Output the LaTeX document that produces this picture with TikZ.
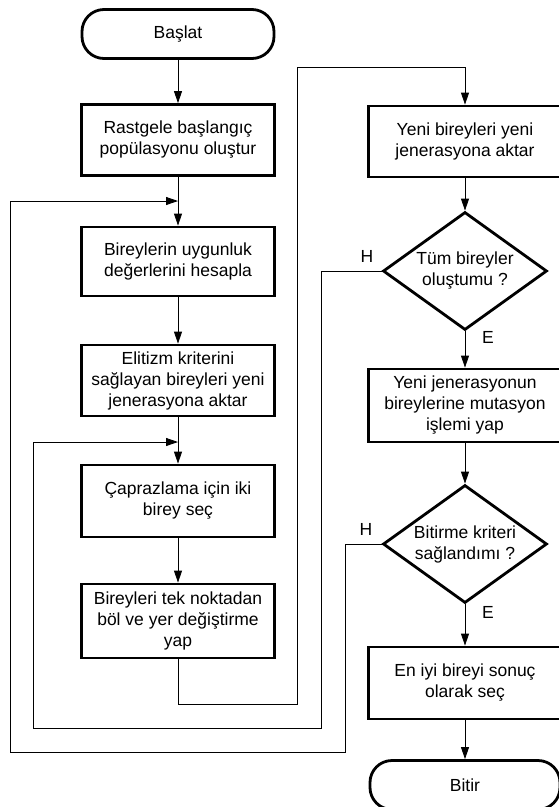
\documentclass[tikz,border=0pt]{standalone}
\usepackage{fontspec}
\setmainfont{Liberation Sans}
\usetikzlibrary{shapes.geometric,arrows.meta}

\begin{document}
\begin{tikzpicture}[x=1pt,y=1pt,yscale=-1,xscale=1,
  every node/.style={font=\fontsize{17.5}{21}\selectfont,align=center},
  stepbox/.style={draw,line width=2.8pt,minimum width=193,minimum height=71,inner sep=2pt},
  endbox/.style={draw,line width=2.8pt,rounded corners=22pt,minimum width=192,minimum height=49},
  askbox/.style={draw,diamond,line width=2.8pt,inner sep=0pt,aspect=1.39,minimum width=164,minimum height=118},
  flow/.style={line width=0.8pt,-{Triangle[length=12pt,width=8pt]}},
  back/.style={line width=0.8pt}]
\useasboundingbox (0,0) rectangle (559,807);

% Left column
\node [endbox] (basla) at (178,34) {Başlat};
\node [stepbox] (rast) at (178,140) {Rastgele başlangıç\\popülasyonu oluştur};
\node [stepbox,minimum height=69] (uygun) at (178,261.5) {Bireylerin uygunluk\\değerlerini hesapla};
\node [stepbox] (elit) at (178,380.5) {Elitizm kriterini\\sağlayan bireyleri yeni\\jenerasyona aktar};
\node [stepbox,minimum height=72] (capraz) at (178,501) {Çaprazlama için iki\\birey seç};
\node [stepbox,minimum height=74] (bol) at (178,621) {Bireyleri tek noktadan\\böl ve yer değiştirme\\yap};

% Right column
\node [stepbox] (yeni) at (465,141.5) {Yeni bireyleri yeni\\jenerasyona aktar};
\node [askbox] (tum) at (465,271) {Tüm bireyler\\oluştumu ?};
\node [stepbox,minimum height=73] (mut) at (465,405.5) {Yeni jenerasyonun\\bireylerine mutasyon\\işlemi yap};
\node [askbox] (bitirme) at (465,544) {Bitirme kriteri\\sağlandımı ?};
\node [stepbox,minimum height=72] (eniyi) at (465,683) {En iyi bireyi sonuç\\olarak seç};
\node [endbox,minimum width=190] (bitir) at (465,785) {Bitir};

% Loop joints
\coordinate (dis) at (178,201);
\coordinate (ic) at (178,442);

% Main flow
\draw [flow] (basla) -- (rast);
\draw [flow] (rast) -- (uygun);
\draw [flow] (uygun) -- (elit);
\draw [flow] (elit) -- (capraz);
\draw [flow] (capraz) -- (bol);
\draw [flow] (bol.south) -- (178,704) -- (297,704) -- (297,67) -- (465,67) -- (yeni.north);
\draw [flow] (yeni) -- (tum);
\draw [flow] (tum) -- (mut);
\draw [flow] (mut) -- (bitirme);
\draw [flow] (bitirme) -- (eniyi);
\draw [flow] (eniyi) -- (bitir);

% Back loops
\draw [flow] (tum.west) -- (321,271) -- (321,728) -- (33,728) -- (33,442) -- (ic);
\draw [flow] (bitirme.west) -- (345,544) -- (345,752) -- (10,752) -- (10,201) -- (dis);

% Text Node
\node (h1) at (367,256) {H};
\node (h2) at (366,529) {H};
\node (e1) at (488,337) {E};
\node (e2) at (488,612) {E};

\end{tikzpicture}
\end{document}
